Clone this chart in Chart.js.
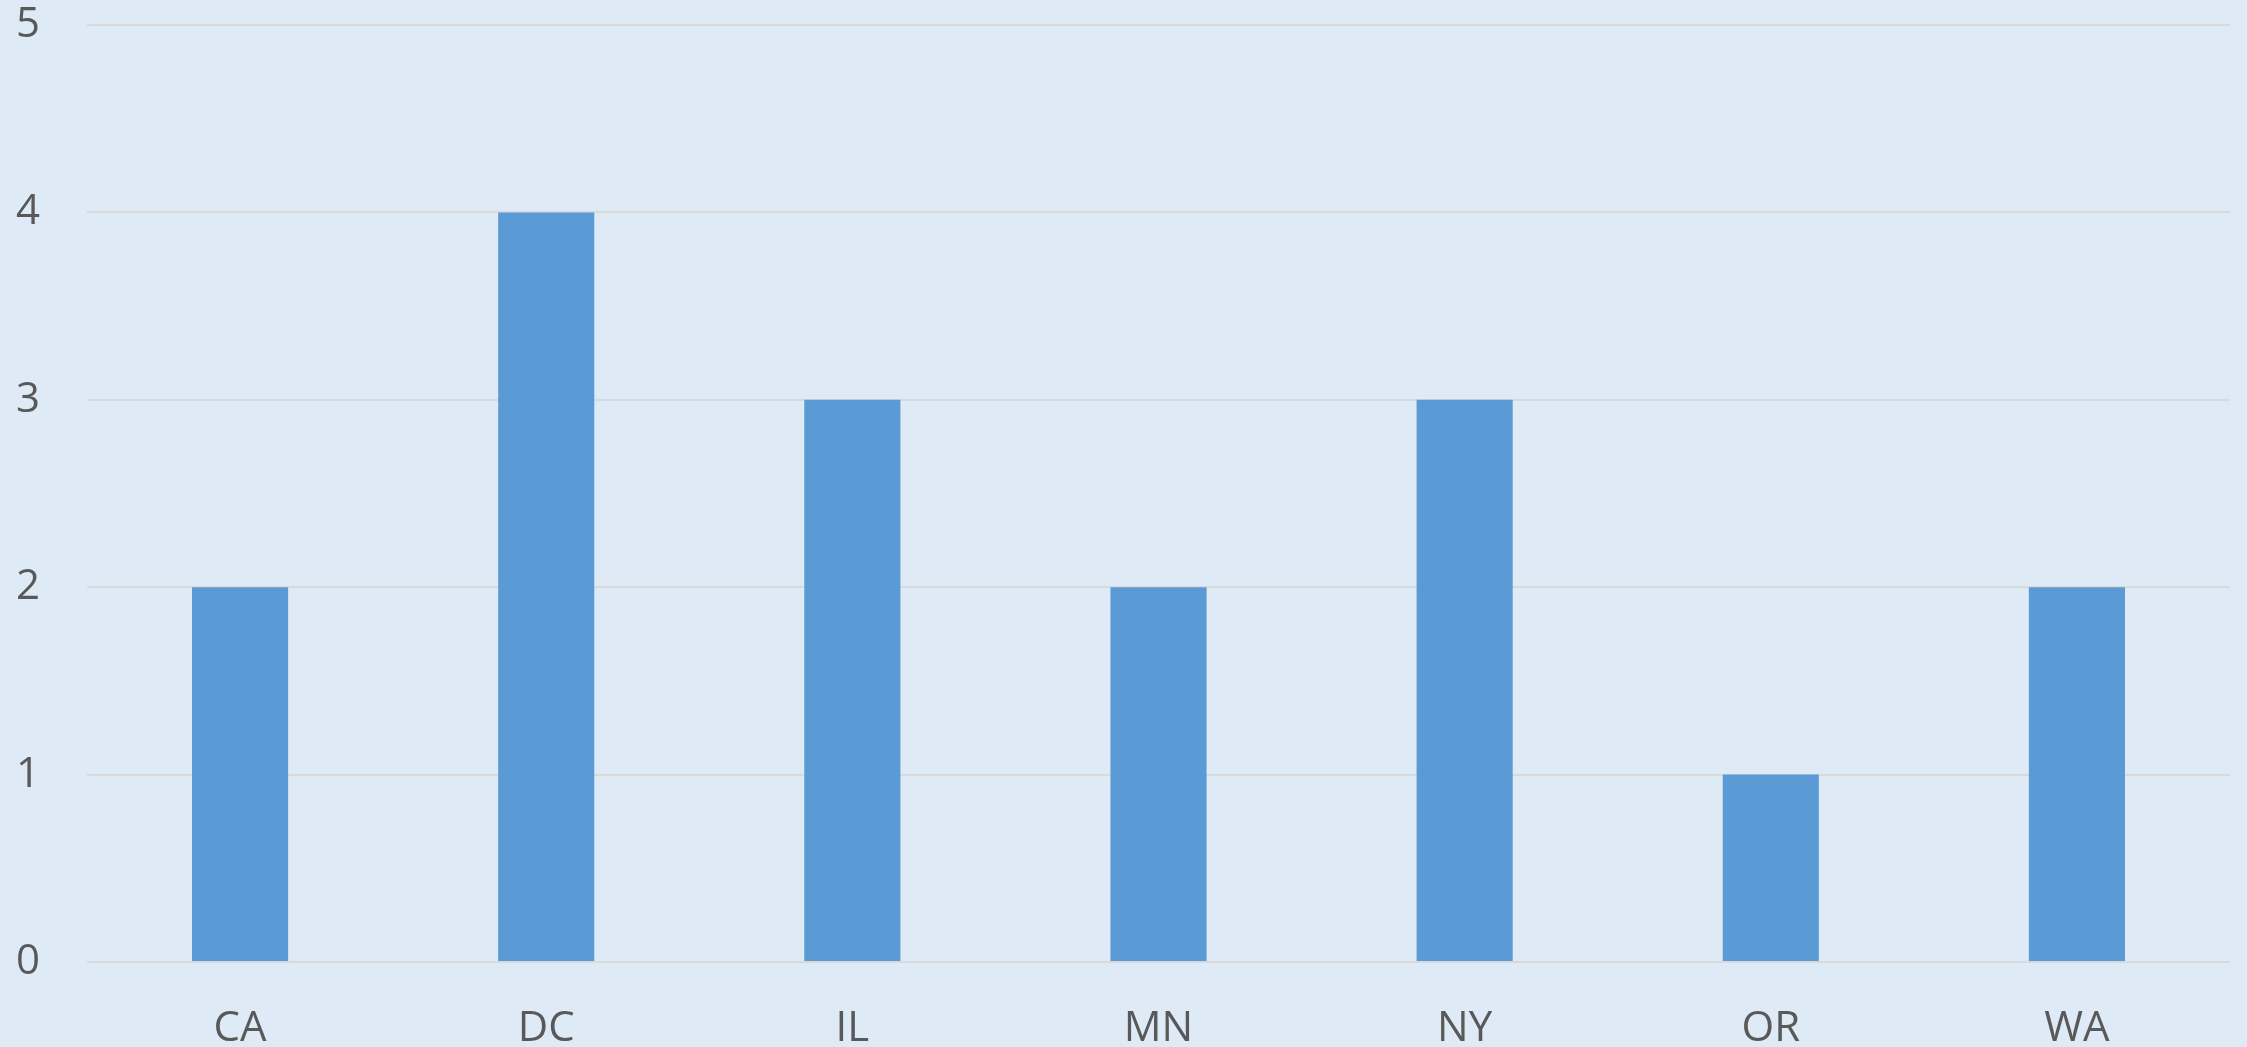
<!DOCTYPE html>
<html>
<head>
<meta charset="utf-8">
<script src="https://cdn.jsdelivr.net/npm/chart.js@4"></script>
<style>
  html, body { margin: 0; padding: 0; background: #DEEAF6; }
  #wrap { width: 2247px; height: 1047px; }
</style>
</head>
<body>
<div id="wrap"><canvas id="chart" width="2247" height="1047"></canvas></div>
<script>
const states = ["CA", "DC", "IL", "MN", "NY", "OR", "WA"];
const counts = [2, 4, 3, 2, 3, 1, 2];
const yTicks = [0, 1, 2, 3, 4, 5];

const font = { family: "'Open Sans', 'Noto Sans', sans-serif", size: 42 };

new Chart(document.getElementById("chart"), {
  type: "bar",
  data: {
    labels: states,
    datasets: [{
      data: counts,
      backgroundColor: "#5B9BD5",
      borderWidth: 0,
      categoryPercentage: 1,
      barPercentage: 0.314,
    }],
  },
  options: {
    responsive: false,
    animation: false,
    layout: { padding: { top: 25, right: 17, left: 0, bottom: 0 } },
    plugins: { legend: { display: false }, tooltip: { enabled: false } },
    scales: {
      x: {
        grid: { display: false },
        border: { display: false },
        ticks: { color: "#595959", font, padding: 34, maxRotation: 0 },
        afterFit: s => { s.height = 85; s.paddingLeft = 0; s.paddingRight = 0; },
      },
      y: {
        min: 0,
        max: 5,
        afterBuildTicks: s => { s.ticks = yTicks.map(v => ({ value: v })); },
        grid: { color: "#D9D9D9", lineWidth: 2, drawTicks: false },
        border: { display: false },
        ticks: { color: "#595959", font, padding: 47 },
        afterFit: s => { s.width = 87; s.paddingTop = 0; s.paddingBottom = 0; },
      },
    },
  },
});
</script>
</body>
</html>
